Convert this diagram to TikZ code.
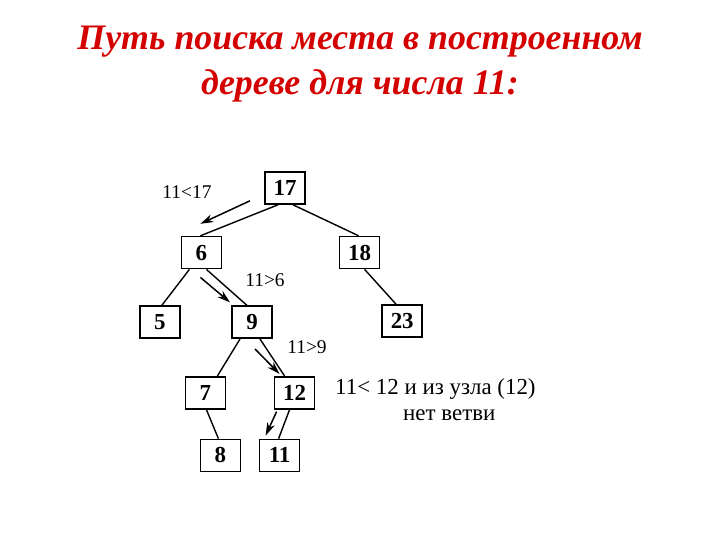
\documentclass[tikz,border=0pt]{standalone}
\usepackage{fontspec}
\setmainfont{Liberation Serif}
\usetikzlibrary{arrows.meta,positioning}
\definecolor{titlered}{RGB}{212,0,0}
\tikzset{
  key/.style  ={draw,line width=1.6bp,minimum width=40bp,minimum height=32bp,
                inner sep=0pt,font=\fontsize{23}{25}\selectfont\bfseries},
  cmp/.style  ={inner sep=0pt,font=\fontsize{19.5}{21}\selectfont},
  note/.style ={inner sep=0pt,align=left,font=\fontsize{23}{26}\selectfont},
  ttl/.style  ={inner sep=0pt,align=center,text=titlered,
                font=\fontsize{36}{45}\selectfont\bfseries\itshape},
  ed/.style   ={line width=1.4bp},
  ar/.style   ={line width=1.5bp,-{Stealth[length=13bp,width=8bp,inset=4bp]}},
}

\begin{document}
\begin{tikzpicture}[x=1bp,y=-1bp]
\useasboundingbox (0,0) rectangle (720,540);
\node[ttl] (title) at (360,64) {Путь поиска места в построенном\\дереве для числа 11:};
% tree
\node[key] (K17) at (285,188) {17};
\node[key,below left=31bp and 42bp of K17] (K6) {6};
\node[key,below right=31bp and 33bp of K17] (K18) {18};
\node[key,below left=36bp and 0bp of K6] (K5) {5};
\node[key,below right=36bp and 9bp of K6] (K9) {9};
\node[key,below right=35bp and 1bp of K18] (K23) {23};
\node[key,below left=37bp and 5bp of K9] (K7) {7};
\node[key,below right=37bp and 1bp of K9] (K12) {12};
\node[key,below=29bp of K7,xshift=15bp] (K8) {8};
\node[key,below=29bp of K12,xshift=-15bp] (K11) {11};
\draw[ed] ([xshift=-7bp]K17.south) -- ([xshift=-1bp]K6.north);
\draw[ed] ([xshift=8bp]K17.south) -- ([xshift=-1bp]K18.north);
\draw[ed] ([xshift=-12bp]K6.south) -- ([xshift=2bp]K5.north);
\draw[ed] ([xshift=5bp]K6.south) -- ([xshift=-5bp]K9.north);
\draw[ed] ([xshift=5bp]K18.south) -- ([xshift=-6bp]K23.north);
\draw[ed] ([xshift=-12bp]K9.south) -- ([xshift=12bp]K7.north);
\draw[ed] ([xshift=8bp]K9.south) -- ([xshift=-10bp]K12.north);
\draw[ed] ([xshift=1bp]K7.south) -- ([xshift=-2bp]K8.north);
\draw[ed] ([xshift=-5bp]K12.south) -- ([xshift=-1bp]K11.north);
% search path
\draw[ar] ([xshift=-35bp,yshift=4bp]K17.south) -- ([xshift=-1bp,yshift=12bp]K6.north);
\draw[ar] ([xshift=-1bp,yshift=-8bp]K6.south) -- ([xshift=-22bp,yshift=3bp]K9.north);
\draw[ar] ([xshift=3bp,yshift=-10bp]K9.south) -- ([xshift=-15bp,yshift=2bp]K12.north);
\draw[ar] ([xshift=-18bp,yshift=-2bp]K12.south) -- ([xshift=-14bp,yshift=3bp]K11.north);
\node[cmp] (c17) at (187,192) {11<17};
\node[cmp] (c6) at (265,280) {11>6};
\node[cmp] (c9) at (307,347) {11>9};
\node[note,anchor=west] (res) at (335,400) {11< 12 и из узла (12)\\\hspace*{68bp}нет ветви};
\end{tikzpicture}
\end{document}
